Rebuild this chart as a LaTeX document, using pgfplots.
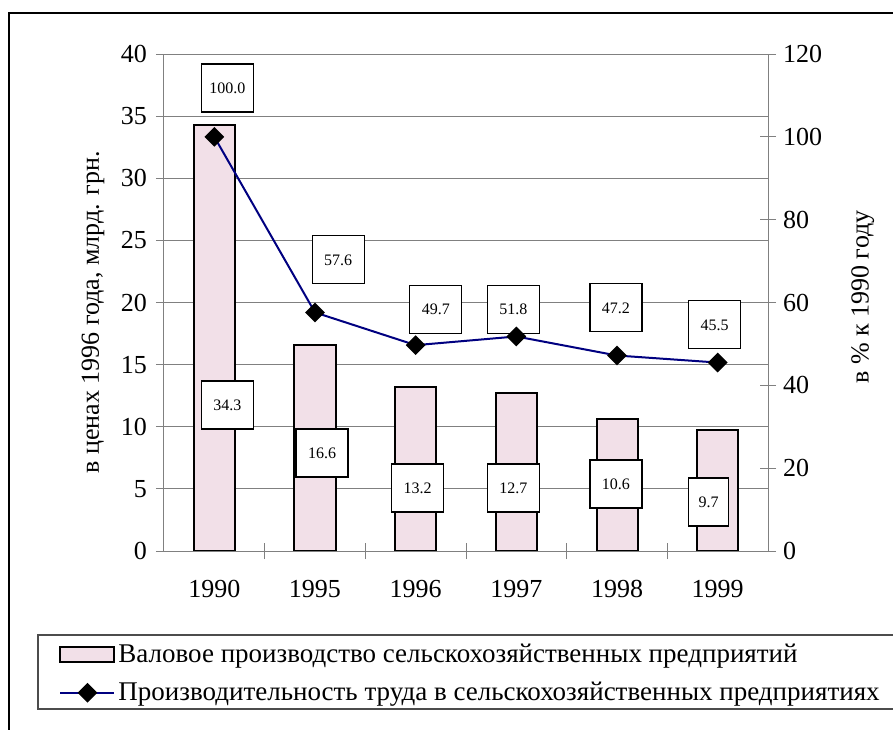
\documentclass[border=0pt]{standalone}
\usepackage{fontspec}
\setmainfont{Liberation Serif}
\usepackage{pgfplots}
\pgfplotsset{compat=1.18}

\definecolor{barpink}{RGB}{242,224,232}
\definecolor{navyline}{RGB}{0,0,128}
\definecolor{gridgray}{RGB}{128,128,128}

\tikzset{lbl/.style={draw=black, fill=white, line width=0.6pt, font=\fontsize{8}{9}\selectfont, inner xsep=2pt, minimum width=26pt, minimum height=24pt}}
\pgfplotsset{linelegend/.style={legend image code/.code={\draw[##1, mark repeat=2, mark phase=2] plot coordinates {(0pt,0pt) (13.5pt,0pt) (27pt,0pt)};}}}

\begin{document}
\begin{tikzpicture}
\useasboundingbox (-82pt,-89pt) rectangle (364.5pt,275.5pt);
\draw[overlay, black, line width=0.6pt] (-77.5pt,-120pt) -- (-77.5pt,269pt) -- (400pt,269pt);
\draw[overlay, black!70, line width=0.8pt, fill=white] (-63pt,-79pt) rectangle (400pt,-42pt);

\begin{axis}[
 at={(0pt,0pt)}, anchor=south west,
 scale only axis, width=302pt, height=248.5pt,
 xmin=-0.5, xmax=5.5, ymin=0, ymax=40,
 axis y line*=left, axis x line*=bottom,
 axis line style={-, gridgray, line width=0.5pt},
 every outer x axis line/.append style={-},
 every outer y axis line/.append style={-},
 xtick={0,...,5}, xticklabels={1990,1995,1996,1997,1998,1999},
 x tick style={draw=none},
 xticklabel style={yshift=-3pt},
 ytick={0,5,...,40},
 y tick style={gridgray, line width=0.5pt},
 yticklabel style={xshift=-1pt},
 tick align=center, major tick length=8pt,
 ymajorgrids, grid style={gridgray, line width=0.5pt},
 tick label style={font=\fontsize{13}{15}\selectfont},
 /pgf/number format/assume math mode=true,
 ylabel={в ценах 1996 года, млрд. грн.},
 ylabel style={at={(axis description cs:-0.1175,0.48)}, anchor=center, font=\fontsize{13}{15}\selectfont},
 ybar, bar width=20.5pt,
 clip=false,
]
\addplot[draw=black, fill=barpink, line width=1pt] coordinates {(0,34.3) (1,16.6) (2,13.2) (3,12.7) (4,10.6) (5,9.7)};
\node[lbl] at (axis cs:0.13,11.75) {34.3};
\node[lbl] at (axis cs:1.07,7.89) {16.6};
\node[lbl] at (axis cs:2.02,5.07) {13.2};
\node[lbl] at (axis cs:2.97,5.07) {12.7};
\node[lbl] at (axis cs:3.99,5.39) {10.6};
\node[lbl, minimum width=20pt] at (axis cs:4.91,3.94) {9.7};
\end{axis}

\begin{axis}[
 at={(0pt,0pt)}, anchor=south west,
 scale only axis, width=302pt, height=248.5pt,
 xmin=-0.5, xmax=5.5, ymin=0, ymax=120,
 axis y line*=right, axis x line*=bottom,
 axis line style={-, gridgray, line width=0.5pt},
 every outer x axis line/.append style={-},
 every outer y axis line/.append style={-},
 xtick={0.5,1.5,2.5,3.5,4.5}, xticklabels={},
 ytick={0,20,...,120},
 tick style={gridgray, line width=0.5pt},
 tick align=center, major tick length=8pt,
 tick label style={font=\fontsize{13}{15}\selectfont},
 /pgf/number format/assume math mode=true,
 ylabel={в \% к 1990 году},
 ylabel style={at={(axis description cs:1.157,0.511)}, anchor=center, font=\fontsize{13}{15}\selectfont},
 clip=false,
 legend style={draw=none, fill=none, inner sep=0pt, at={(axis description cs:-0.1738,-0.2465)}, anchor=west,
   font=\fontsize{13.5}{15}\selectfont, nodes={inner sep=1.5pt}, row sep=5.5pt},
 legend cell align=left,
]
\addlegendimage{legend image code/.code={\draw[draw=black, fill=barpink, line width=1pt] (0pt,-3.75pt) rectangle (27pt,3.75pt);}}
\addlegendentry{Валовое производство сельскохозяйственных предприятий}
\addplot[navyline, line width=1pt, mark=square*, mark size=3pt, mark options={rotate=45, fill=black, draw=black, solid}, linelegend]
  coordinates {(0,100) (1,57.6) (2,49.7) (3,51.8) (4,47.2) (5,45.5)};
\addlegendentry{Производительность труда в сельскохозяйственных предприятиях}
\node[lbl] at (axis cs:0.13,111.8) {100.0};
\node[lbl] at (axis cs:1.23,70.3) {57.6};
\node[lbl] at (axis cs:2.20,58.4) {49.7};
\node[lbl] at (axis cs:2.97,58.4) {51.8};
\node[lbl] at (axis cs:3.99,58.7) {47.2};
\node[lbl] at (axis cs:4.97,54.6) {45.5};
\end{axis}
\end{tikzpicture}
\end{document}
